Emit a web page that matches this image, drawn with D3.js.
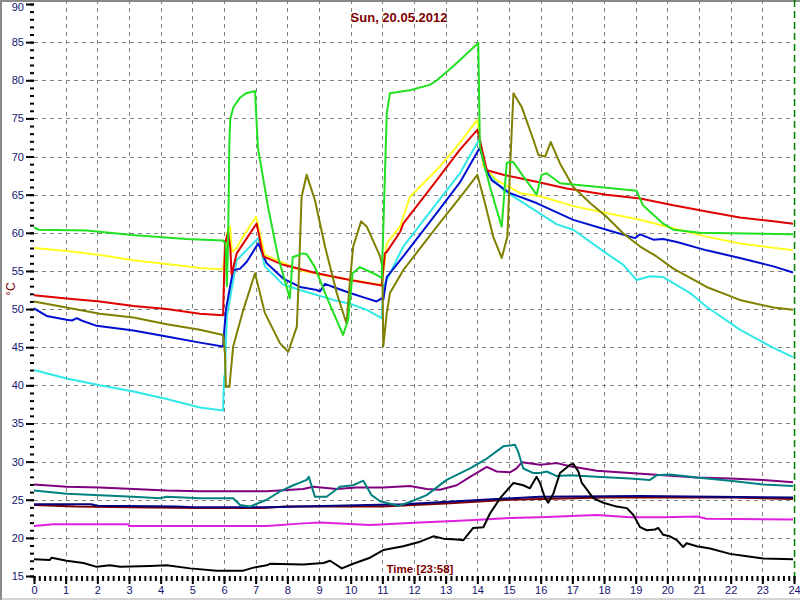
<!DOCTYPE html>
<html><head><meta charset="utf-8">
<script src="https://cdn.jsdelivr.net/npm/d3@7"></script>
<style>html,body{margin:0;padding:0;background:#fff;}svg{display:block;}</style>
</head><body>
<svg id="chart" width="800" height="600"></svg>
<script>
const title = "Sun, 20.05.2012";
const xTitle = "Time [23:58]";
const yTitle = "°C";
const markerHour = 23.97;
const xTicks = d3.range(0, 25, 1);
const yTicks = d3.range(15, 91, 5);

const green = [[0,60.7],[0.15,60.4],[1.66,60.3],[3.1,59.7],[4.8,59.2],[5.97,59.0],[6.05,58.5],[6.09,53],[6.13,59],[6.17,72],[6.2,75],[6.3,76.5],[6.5,77.7],[6.7,78.3],[6.98,78.6],[7.07,71.2],[7.39,63.4],[7.71,56.8],[8.08,51.4],[8.17,56.8],[8.5,57.3],[8.61,57.2],[8.87,55.5],[9.24,51.6],[9.76,46.6],[9.92,48.6],[10.06,54.7],[10.29,55.5],[10.71,54.7],[10.98,54.1],[11.02,59],[11.14,75.7],[11.24,78.3],[11.87,78.7],[12.5,79.4],[12.72,80.0],[13.23,81.8],[14.03,84.9],[14.08,71.3],[14.4,66.0],[14.77,60.8],[14.93,69.2],[15.13,69.3],[15.45,67.4],[15.77,65.6],[15.87,65.0],[16.03,67.6],[16.19,67.8],[16.61,66.5],[18.08,65.9],[19.03,65.5],[19.23,63.6],[19.87,61.2],[20.19,60.4],[21.03,60.0],[23.97,59.8]];
const yellow = [[0,58.0],[1.03,57.6],[2.08,57.1],[3.14,56.4],[4.19,55.9],[5.24,55.4],[5.97,55.2],[6.03,57],[6.09,59.9],[6.19,60.8],[6.25,57.5],[6.4,58.0],[6.6,59.5],[7.01,62.1],[7.29,57.1],[8.4,55.1],[9.45,54.2],[10.93,53.2],[11.0,53.6],[11.14,58.6],[11.56,60.8],[11.87,64.7],[12.82,68.7],[13.35,71.3],[14.0,74.8],[14.19,68.7],[14.61,66.9],[15.35,65.2],[15.98,64.8],[17.03,63.5],[18.08,62.6],[19.14,61.7],[20.19,60.6],[21.24,59.5],[22.29,58.6],[23.97,57.7]];
const red = [[0,51.8],[1.03,51.4],[2.08,51.0],[3.14,50.4],[4.19,50.0],[5.24,49.4],[5.97,49.2],[6.03,58.5],[6.13,60.1],[6.2,58],[6.24,54.5],[6.4,57.3],[7.03,61.2],[7.24,56.9],[7.87,55.8],[8.93,54.7],[9.98,53.8],[10.98,53.1],[11.08,57.3],[11.14,57.5],[11.56,60.1],[11.66,61.2],[12.72,66.9],[13.45,70.9],[14.0,73.5],[14.3,68.2],[14.82,67.6],[15.87,66.7],[16.82,65.8],[18.08,65.0],[19.14,64.5],[20.19,63.6],[21.24,62.8],[22.29,62.0],[23.35,61.5],[23.97,61.2]];
const olive = [[0,51.0],[2.08,49.4],[3.14,48.9],[4.19,48.0],[5.24,47.3],[5.97,46.6],[6.03,44.2],[6.06,39.8],[6.17,39.8],[6.29,45.1],[6.61,49.9],[6.98,54.7],[7.29,49.5],[7.77,45.5],[8.03,44.4],[8.3,47.7],[8.35,52.9],[8.45,64.7],[8.61,67.6],[8.87,64.3],[9.19,58.2],[9.56,52.1],[9.87,48.1],[9.98,53.8],[10.08,58.2],[10.33,61.5],[10.51,60.8],[10.93,56.9],[11.0,55.6],[11.03,45.1],[11.14,49.5],[11.24,52.1],[11.66,55.1],[12.72,60.8],[13.56,65.2],[14.0,67.6],[14.24,63.9],[14.5,59.5],[14.77,56.7],[14.95,59.5],[15.03,68.2],[15.14,78.3],[15.4,76.5],[15.77,72.2],[15.93,70.2],[16.14,70.0],[16.32,71.9],[16.61,69.1],[17.03,66.0],[17.56,63.9],[18.08,62.1],[18.61,59.9],[19.14,58.2],[19.66,56.9],[20.19,55.3],[21.24,52.9],[22.29,51.2],[23.35,50.2],[23.97,49.9]];
const blue = [[0,50.1],[0.4,49.1],[1.03,48.6],[1.2,48.5],[1.35,48.8],[1.5,48.5],[1.98,47.8],[3.14,47.2],[4.19,46.4],[5.24,45.6],[5.97,45.1],[6.06,49.9],[6.19,52.9],[6.29,55.1],[6.51,55.3],[6.72,56.2],[7.08,58.6],[7.35,56.0],[7.87,54.0],[8.4,52.9],[8.93,52.5],[9.03,52.3],[9.19,53.3],[9.45,52.9],[9.98,52.1],[10.51,51.4],[10.82,51.0],[10.98,51.4],[11.03,51.2],[11.14,54.2],[11.66,56.9],[12.72,62.6],[13.45,66.6],[14.08,71.2],[14.24,68.7],[14.45,66.9],[15.03,65.2],[15.87,63.9],[17.03,61.7],[18.08,60.4],[18.98,59.3],[19.14,59.8],[19.56,59.1],[19.87,59.2],[20.3,58.8],[21.24,57.7],[22.29,56.7],[23.35,55.6],[23.97,54.8]];
const cyan = [[0,42.0],[1.03,40.9],[2.08,40.0],[3.14,39.2],[4.19,38.2],[5.24,37.1],[5.97,36.7],[6.0,41],[6.03,41.5],[6.09,49],[6.4,56.4],[7.08,59.3],[7.29,55.6],[7.87,53.2],[8.4,52.5],[9.45,51.2],[9.98,50.7],[10.51,49.9],[10.98,48.8],[11.03,52.9],[11.66,58.2],[12.72,63.9],[13.45,67.8],[14.08,72.4],[14.24,68.2],[14.82,65.6],[15.87,62.8],[16.51,61.1],[17.03,60.4],[18.08,57.3],[18.61,55.8],[19.03,53.8],[19.45,54.3],[19.87,54.2],[20.19,53.4],[20.72,52.1],[21.24,50.3],[22.29,47.3],[23.35,44.9],[23.97,43.7]];
const purple = [[0,27.0],[1.03,26.7],[2.08,26.6],[3.14,26.4],[4.19,26.2],[5.24,26.1],[7.35,26.1],[8.5,26.4],[8.82,26.7],[9.56,26.4],[10.19,26.6],[11.03,26.6],[11.87,26.8],[12.4,26.4],[12.82,26.3],[13.35,26.9],[13.77,28.0],[14.3,29.3],[14.61,28.7],[15.03,28.6],[15.24,29.1],[15.4,29.9],[15.98,29.6],[16.51,29.8],[16.93,29.4],[17.77,28.8],[18.82,28.5],[19.87,28.2],[20.93,27.9],[21.98,27.8],[23.03,27.6],[23.97,27.3]];
const teal = [[0,26.2],[1.03,25.8],[2.08,25.6],[3.14,25.4],[3.98,25.2],[4.19,25.4],[5.24,25.2],[6.29,25.2],[6.51,24.3],[6.82,24.1],[7.35,25.0],[7.77,26.1],[8.19,26.9],[8.61,27.6],[8.68,28.0],[8.87,25.4],[9.24,25.4],[9.66,26.7],[10.08,26.9],[10.4,27.5],[10.66,25.6],[10.93,24.8],[11.5,24.2],[11.87,24.7],[12.4,25.6],[13.03,27.6],[13.77,29.1],[14.3,30.4],[14.82,32.0],[15.19,32.2],[15.29,31.3],[15.45,29.1],[15.77,28.5],[15.98,28.5],[16.19,28.7],[16.51,28.1],[16.93,28.2],[17.77,28.0],[18.82,27.8],[19.45,27.6],[19.66,28.2],[20.08,28.3],[20.93,27.9],[21.98,27.5],[23.03,27.0],[23.97,26.8]];
const navy = [[0,24.4],[1.8,24.4],[2.0,24.2],[4.5,24.1],[5.0,24.0],[7.3,24.0],[11.66,24.4],[13.77,24.9],[15.98,25.4],[19.14,25.5],[23.97,25.3]];
const maroon = [[0,24.3],[1.3,24.1],[3.0,24.0],[5.2,23.9],[7.2,23.9],[8.0,24.1],[11.0,24.1],[13.0,24.5],[15.0,25.0],[18.0,25.3],[22.0,25.3],[23.97,25.1]];
const magenta = [[0,21.55],[0.6,21.8],[2.97,21.8],[3.0,21.55],[7.35,21.55],[8.5,21.9],[9.03,22.0],[10.61,21.7],[12.19,22.0],[13.77,22.3],[15.03,22.6],[15.98,22.7],[17.77,23.0],[18.82,22.7],[19.87,22.7],[20.93,22.8],[21.24,22.5],[23.97,22.4]];
const black = [[0,17.2],[0.5,17.1],[0.56,17.4],[1.03,17.0],[1.56,16.7],[1.98,16.2],[2.4,16.4],[2.72,16.2],[3.66,16.3],[4.19,16.4],[4.93,16.0],[5.77,15.7],[6.61,15.7],[6.93,16.1],[7.35,16.4],[7.45,16.6],[8.5,16.5],[9.14,16.7],[9.35,17.0],[9.72,16.0],[10.08,16.6],[10.61,17.4],[11.03,18.4],[11.66,18.9],[12.19,19.5],[12.61,20.2],[12.93,19.9],[13.35,19.8],[13.56,19.7],[13.87,21.3],[14.19,21.4],[14.4,23.2],[14.72,25.2],[15.14,27.2],[15.45,26.9],[15.66,26.5],[15.87,28.0],[15.98,27.2],[16.14,25.2],[16.24,24.6],[16.4,25.8],[16.61,28.5],[16.93,29.6],[17.03,29.7],[17.19,28.7],[17.3,27.2],[17.45,26.4],[17.66,25.2],[17.98,24.6],[18.4,24.1],[18.72,23.9],[18.93,23.0],[19.14,21.4],[19.35,21.0],[19.61,21.1],[19.71,21.3],[19.87,20.4],[20.08,20.2],[20.3,19.7],[20.5,18.8],[20.61,19.3],[20.93,18.9],[21.35,18.6],[21.98,17.9],[22.51,17.6],[23.03,17.3],[23.97,17.2]];

const seriesList = [
  {data: maroon, color: "#800000"},
  {data: navy, color: "#000080"},
  {data: magenta, color: "#e020e0"},
  {data: purple, color: "#800080"},
  {data: teal, color: "#008080"},
  {data: black, color: "#000000"},
  {data: cyan, color: "#30e8e8"},
  {data: yellow, color: "#ffff20"},
  {data: blue, color: "#0010d0"},
  {data: red, color: "#e00000"},
  {data: olive, color: "#808000"},
  {data: green, color: "#20e020"}
];

const svg = d3.select("#chart");
const x = d3.scaleLinear().domain([0, 24]).range([34, 794]);
const y = d3.scaleLinear().domain([15, 90]).range([576, 4]);

// frame
svg.append("rect").attr("x",0).attr("y",0).attr("width",800).attr("height",600).attr("fill","#fff");
svg.append("line").attr("x1",0).attr("x2",800).attr("y1",1).attr("y2",1).attr("stroke","#8a8a8a").attr("stroke-width",2);
svg.append("line").attr("x1",1).attr("x2",1).attr("y1",0).attr("y2",600).attr("stroke","#8a8a8a").attr("stroke-width",2);
svg.append("line").attr("x1",0).attr("x2",800).attr("y1",599).attr("y2",599).attr("stroke","#a8a8a8").attr("stroke-width",1);

// grid
const grid = svg.append("g").attr("stroke","#808080").attr("stroke-width",1).attr("stroke-dasharray","4,4");
grid.selectAll("line.v").data(d3.range(1, 24)).join("line")
  .attr("x1", d => Math.round(x(d)) + 0.5).attr("x2", d => Math.round(x(d)) + 0.5)
  .attr("y1", 0).attr("y2", 576);
grid.selectAll("line.h").data(d3.range(20, 90, 5)).join("line")
  .attr("x1", 34).attr("x2", 794)
  .attr("y1", d => Math.round(y(d)) + 0.5).attr("y2", d => Math.round(y(d)) + 0.5);

// axes
const labelColor = "#141470";
const yMinor = svg.append("g").attr("transform","translate(34,0)")
  .call(d3.axisLeft(y).tickValues(d3.range(15, 91, 1)).tickSize(4).tickFormat(""));
const yMajor = svg.append("g").attr("transform","translate(34,0)")
  .call(d3.axisLeft(y).tickValues(yTicks).tickSize(8).tickPadding(2));
const xMinor = svg.append("g").attr("transform","translate(0,576)")
  .call(d3.axisBottom(x).tickValues(d3.range(0, 24.01, 1/6)).tickSize(5).tickFormat(""));
const xMajor = svg.append("g").attr("transform","translate(0,576)")
  .call(d3.axisBottom(x).tickValues(xTicks).tickSize(8).tickPadding(2));
[yMinor, yMajor, xMinor, xMajor].forEach(g => {
  g.select(".domain").remove();
  g.selectAll(".tick line").attr("stroke","#000").attr("stroke-width",2);
  g.selectAll(".tick text").attr("fill", labelColor).style("font-family","Liberation Sans, Arial, sans-serif").style("font-size","11px");
});
// keep the topmost label inside the picture
yMajor.selectAll(".tick text").filter(d => d === 90).attr("dy", "0.6em");

// series
const line = d3.line().x(d => x(d[0])).y(d => y(d[1]));
svg.append("g").selectAll("path").data(seriesList).join("path")
  .attr("d", d => line(d.data))
  .attr("fill","none")
  .attr("stroke", d => d.color)
  .attr("stroke-width", 2)
  .attr("stroke-linejoin","round");

// time marker
svg.append("line").attr("x1", x(markerHour)+1.5).attr("x2", x(markerHour)+1.5).attr("y1", 0).attr("y2", 576)
  .attr("stroke","#008000").attr("stroke-width",1.5).attr("stroke-dasharray","7,4");

// titles
svg.append("text").attr("x", 399).attr("y", 22).attr("text-anchor","middle")
  .attr("fill","#800000").style("font-family","Liberation Sans, Arial, sans-serif")
  .style("font-size","13px").style("font-weight","bold").text(title);
svg.append("text").attr("x", 420).attr("y", 573).attr("text-anchor","middle")
  .attr("fill","#800000").style("font-family","Liberation Sans, Arial, sans-serif")
  .style("font-size","11.5px").style("font-weight","bold").text(xTitle);
svg.append("text").attr("transform","translate(15,289) rotate(-90)").attr("text-anchor","middle")
  .attr("fill","#800000").style("font-family","Liberation Sans, Arial, sans-serif")
  .style("font-size","12px").text(yTitle);
</script>
</body></html>
